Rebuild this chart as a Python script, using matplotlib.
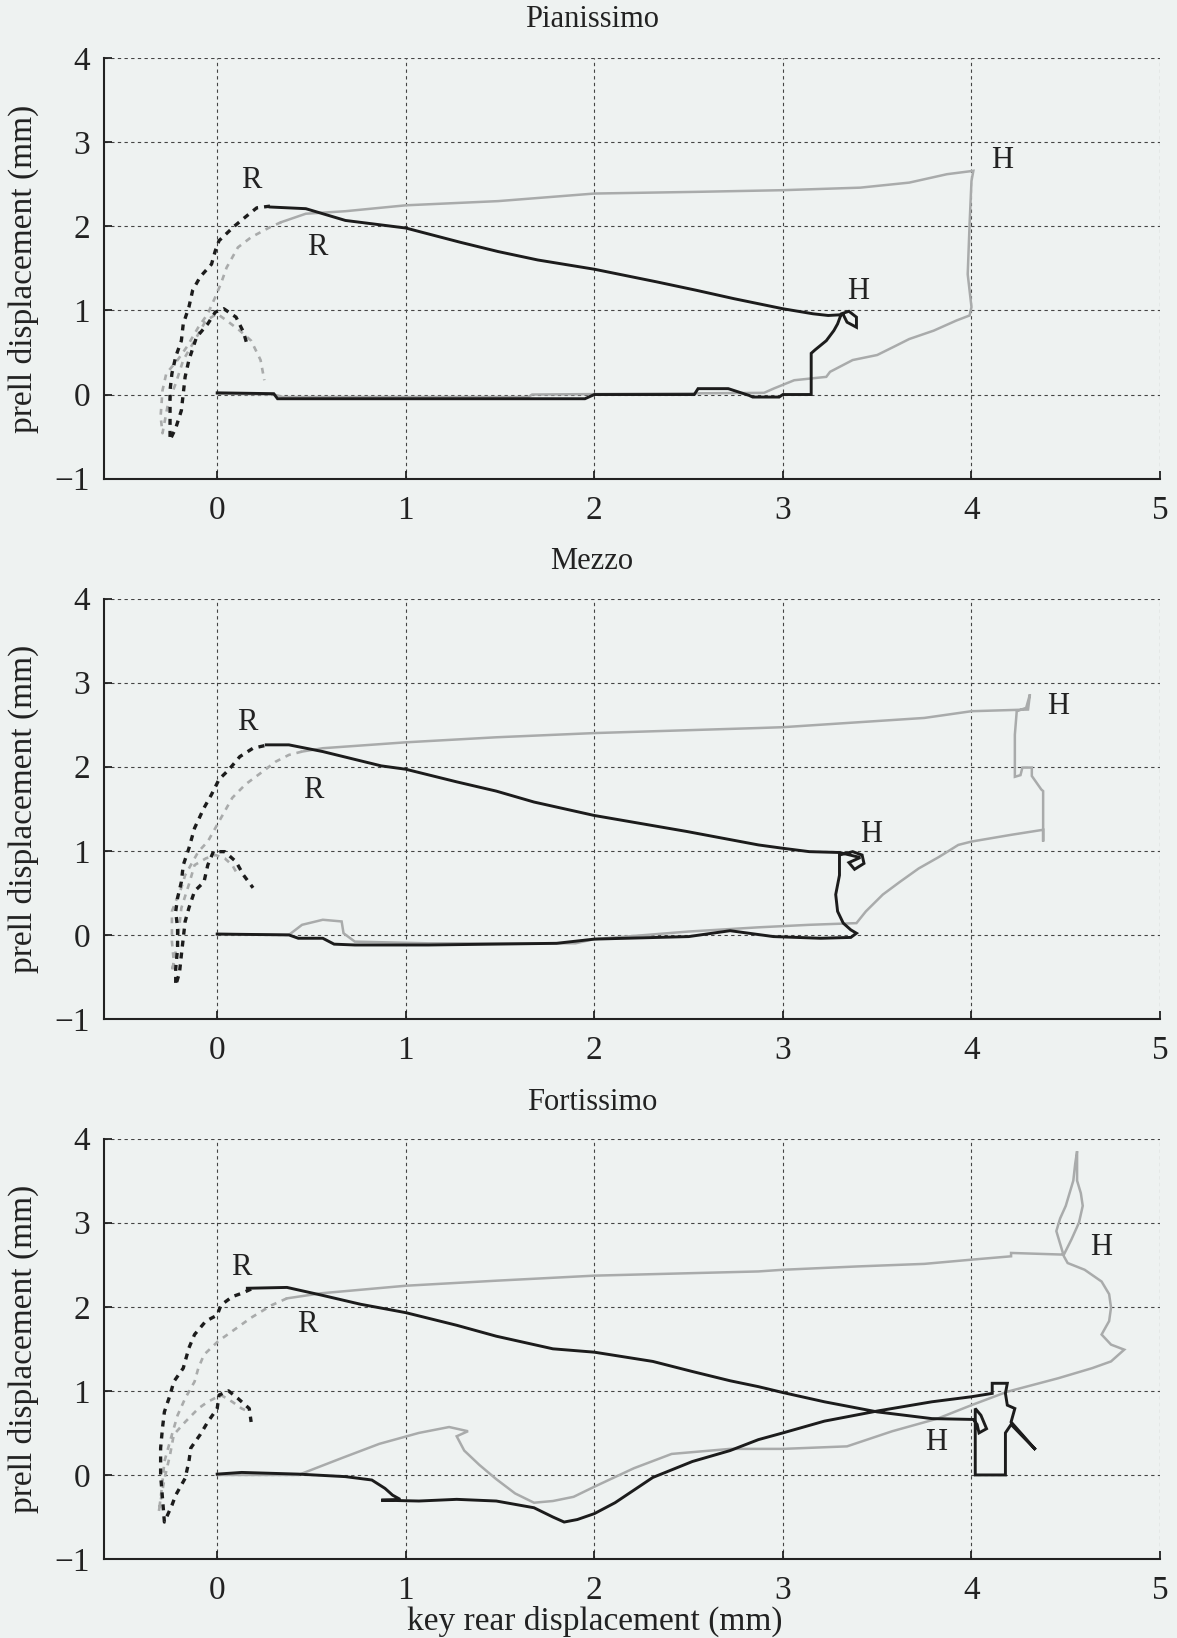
import matplotlib
matplotlib.use("Agg")
import matplotlib.pyplot as plt

# Pianissimo
pp_black_x = [0.0, 0.30, 0.32, 1.0, 1.66, 1.95, 2.0, 2.53, 2.55, 2.71, 2.82, 2.84, 2.98, 3.0, 3.15, 3.15,
              3.17, 3.23, 3.27, 3.29, 3.31, 3.35, 3.39, 3.39, 3.34, 3.32, 3.24, 3.16, 3.0, 2.74, 2.54,
              2.33, 2.0, 1.70, 1.49, 1.29, 1.0, 0.68, 0.47, 0.28]
pp_black_y = [0.02, 0.01, -0.05, -0.05, -0.05, -0.05, 0.0, 0.0, 0.07, 0.07, -0.01, -0.03, -0.03, 0.0, 0.0, 0.49,
              0.53, 0.64, 0.76, 0.84, 0.96, 0.99, 0.92, 0.80, 0.86, 0.95, 0.94, 0.96, 1.02, 1.14, 1.24,
              1.34, 1.49, 1.60, 1.70, 1.81, 1.98, 2.07, 2.21, 2.23]
pp_black_dash_x = [0.28, 0.21, 0.16, 0.09, 0.01, -0.01, -0.03, -0.09, -0.13, -0.15, -0.18, -0.19, -0.22, -0.24,
                   -0.25, -0.25, -0.25, -0.25, -0.22, -0.19, -0.18, -0.17, -0.15, -0.11, -0.05, -0.01, 0.035,
                   0.10, 0.14, 0.16]
pp_black_dash_y = [2.24, 2.22, 2.13, 2.0, 1.83, 1.71, 1.55, 1.40, 1.24, 1.04, 0.84, 0.64, 0.45, 0.25,
                   0.05, -0.19, -0.34, -0.54, -0.40, -0.19, 0.01, 0.21, 0.41, 0.68, 0.84, 0.98, 1.02,
                   0.92, 0.74, 0.58]
pp_gray_x = [0.0, 0.30, 0.35, 1.65, 1.67, 2.9, 2.95, 3.06, 3.23, 3.25, 3.37, 3.5, 3.59, 3.67, 3.8, 3.92, 3.99,
             4.0, 3.98, 3.99, 4.0, 4.01, 3.87, 3.67, 3.41, 3.0, 2.54, 2.0, 1.49, 1.0, 0.68, 0.47, 0.34]
pp_gray_y = [0.01, 0.0, -0.03, -0.03, 0.0, 0.02, 0.07, 0.17, 0.21, 0.27, 0.41, 0.47, 0.57, 0.66, 0.76, 0.88, 0.94,
             1.04, 1.43, 2.03, 2.54, 2.66, 2.62, 2.52, 2.46, 2.43, 2.41, 2.39, 2.30, 2.25, 2.18, 2.15, 2.05]
pp_gray_dash_x = [0.34, 0.28, 0.18, 0.11, 0.05, 0.02, -0.01, -0.05, -0.10, -0.16, -0.21, -0.27, -0.29, -0.30,
                  -0.29, -0.28, -0.26, -0.22, -0.18, -0.12, -0.06, 0.0, 0.05, 0.12, 0.18, 0.23, 0.25]
pp_gray_dash_y = [2.05, 1.99, 1.87, 1.75, 1.51, 1.32, 1.16, 0.96, 0.80, 0.57, 0.41, 0.25, 0.05, -0.26,
                  -0.46, -0.34, -0.10, 0.13, 0.41, 0.64, 0.88, 0.96, 0.88, 0.76, 0.64, 0.41, 0.17]

# Mezzo
mz_black_x = [0.0, 0.38, 0.43, 0.56, 0.62, 0.73, 1.12, 1.8, 2.0, 2.5, 2.72, 2.95, 3.2, 3.36, 3.39, 3.36, 3.32,
              3.29, 3.28, 3.30, 3.30, 3.37, 3.42, 3.43, 3.38, 3.35, 3.41, 3.30, 3.14, 3.0, 2.87, 2.49, 2.0,
              1.68, 1.48, 1.27, 1.0, 0.87, 0.56, 0.38, 0.26]
mz_black_y = [0.01, 0.0, -0.04, -0.04, -0.11, -0.12, -0.12, -0.10, -0.05, -0.02, 0.05, -0.02, -0.04, -0.03, 0.02,
              0.06, 0.14, 0.28, 0.48, 0.71, 0.95, 0.99, 0.95, 0.85, 0.78, 0.86, 0.92, 0.98, 0.99, 1.03, 1.07,
              1.23, 1.42, 1.58, 1.71, 1.82, 1.97, 2.01, 2.18, 2.26, 2.26]
mz_black_dash_x = [0.25, 0.19, 0.12, 0.06, 0.01, -0.03, -0.07, -0.12, -0.15, -0.18, -0.19, -0.21, -0.22, -0.21,
                   -0.21, -0.22, -0.22, -0.20, -0.19, -0.17, -0.15, -0.12, -0.07, -0.05, -0.02, 0.04, 0.10,
                   0.14, 0.19]
mz_black_dash_y = [2.25, 2.22, 2.12, 1.96, 1.85, 1.67, 1.51, 1.27, 1.03, 0.83, 0.63, 0.44, 0.28, 0.08,
                   -0.16, -0.40, -0.60, -0.45, -0.24, 0.16, 0.32, 0.52, 0.63, 0.83, 0.99, 0.99, 0.87,
                   0.71, 0.56]
mz_gray_x = [0.0, 0.38, 0.45, 0.56, 0.66, 0.67, 0.73, 1.12, 1.9, 2.0, 2.5, 2.87, 3.14, 3.39, 3.44, 3.53, 3.62,
             3.72, 3.83, 3.93, 4.0, 4.21, 4.38, 4.38, 4.38, 4.37, 4.32, 4.32, 4.27, 4.26, 4.23, 4.23, 4.24,
             4.29, 4.31, 4.30, 4.0, 3.75, 3.0, 2.87, 2.0, 1.48, 1.0, 0.56, 0.45]
mz_gray_y = [0.01, 0.0, 0.12, 0.18, 0.16, 0.02, -0.08, -0.10, -0.10, -0.05, 0.04, 0.09, 0.12, 0.14, 0.28, 0.48, 0.63,
             0.79, 0.93, 1.07, 1.11, 1.19, 1.25, 1.11, 1.71, 1.73, 1.89, 1.99, 1.99, 1.90, 1.88, 2.38, 2.66,
             2.70, 2.86, 2.68, 2.66, 2.58, 2.47, 2.46, 2.40, 2.35, 2.29, 2.22, 2.18]
mz_gray_dash_x = [0.45, 0.38, 0.31, 0.24, 0.15, 0.08, 0.03, -0.01, -0.05, -0.10, -0.13, -0.17, -0.19, -0.22,
                  -0.24, -0.24, -0.23, -0.24, -0.21, -0.19, -0.15, -0.12, -0.06, -0.01, 0.04, 0.08, 0.10]
mz_gray_dash_y = [2.18, 2.14, 2.06, 1.94, 1.79, 1.63, 1.43, 1.27, 1.11, 0.99, 0.87, 0.71, 0.56, 0.40,
                  0.28, -0.08, -0.32, -0.44, -0.08, 0.32, 0.60, 0.83, 0.91, 0.95, 0.91, 0.83, 0.75]

# Fortissimo
ff_black_x = [0.0, 0.13, 0.43, 0.68, 0.82, 0.89, 0.93, 0.97, 0.87, 1.07, 1.27, 1.48, 1.68, 1.78, 1.84, 1.91, 2.0,
              2.11, 2.31, 2.52, 2.72, 2.87, 3.0, 3.22, 3.5, 3.79, 4.0, 4.11, 4.11, 4.19, 4.18, 4.19, 4.23,
              4.21, 4.34, 4.21, 4.18, 4.18, 4.02, 4.02, 4.05, 4.08, 4.04, 4.03, 4.01, 3.79, 3.5, 3.22, 3.0,
              2.87, 2.72, 2.52, 2.31, 2.0, 1.78, 1.48, 1.27, 1.0, 0.76, 0.55, 0.37, 0.16]
ff_black_y = [0.01, 0.03, 0.01, -0.02, -0.06, -0.16, -0.24, -0.29, -0.30, -0.31, -0.29, -0.31, -0.39, -0.50, -0.56,
              -0.53, -0.46, -0.33, -0.03, 0.16, 0.29, 0.42, 0.50, 0.64, 0.76, 0.87, 0.93, 0.97, 1.09, 1.09, 0.97,
              0.83, 0.79, 0.63, 0.30, 0.60, 0.50, 0.0, 0.0, 0.79, 0.71, 0.55, 0.50, 0.60, 0.66, 0.67, 0.75,
              0.87, 0.98, 1.05, 1.12, 1.23, 1.35, 1.46, 1.50, 1.65, 1.78, 1.93, 2.03, 2.14, 2.23, 2.22]
ff_black_dash_x = [0.18, 0.13, 0.08, 0.02, 0.0, -0.06, -0.12, -0.15, -0.18, -0.23, -0.25, -0.28, -0.29, -0.30,
                   -0.30, -0.29, -0.28, -0.24, -0.22, -0.17, -0.15, -0.14, -0.09, -0.05, 0.0, 0.01, 0.06,
                   0.11, 0.17, 0.18]
ff_black_dash_y = [2.21, 2.16, 2.12, 2.02, 1.90, 1.83, 1.67, 1.51, 1.27, 1.11, 0.95, 0.75, 0.56, 0.32,
                   0.0, -0.28, -0.56, -0.36, -0.24, -0.04, 0.16, 0.32, 0.48, 0.63, 0.79, 0.95, 1.0,
                   0.91, 0.79, 0.63]
ff_gray_x = [0.0, 0.43, 0.66, 0.86, 1.07, 1.23, 1.33, 1.27, 1.31, 1.39, 1.48, 1.58, 1.68, 1.78, 1.89, 2.0, 2.21,
             2.41, 2.72, 3.0, 3.34, 3.58, 3.82, 4.0, 4.19, 4.46, 4.64, 4.74, 4.81, 4.74, 4.69, 4.71, 4.73,
             4.74, 4.73, 4.69, 4.60, 4.51, 4.49, 4.47, 4.45, 4.47, 4.50, 4.52, 4.54, 4.55, 4.56, 4.56, 4.58,
             4.59, 4.57, 4.53, 4.49, 4.21, 4.21, 4.0, 3.75, 3.4, 3.0, 2.87, 2.0, 1.48, 1.0, 0.55, 0.37]
ff_gray_y = [0.0, 0.0, 0.20, 0.37, 0.50, 0.57, 0.52, 0.46, 0.29, 0.12, -0.05, -0.22, -0.33, -0.31, -0.26, -0.14, 0.08,
             0.25, 0.31, 0.31, 0.34, 0.52, 0.67, 0.83, 0.99, 1.15, 1.27, 1.35, 1.49, 1.55, 1.67, 1.75, 1.83,
             1.99, 2.15, 2.30, 2.44, 2.52, 2.60, 2.75, 2.90, 3.05, 3.20, 3.35, 3.50, 3.70, 3.85, 3.50, 3.35,
             3.20, 3.00, 2.80, 2.62, 2.64, 2.60, 2.56, 2.51, 2.48, 2.44, 2.42, 2.37, 2.31, 2.25, 2.16, 2.10]
ff_gray_dash_x = [0.37, 0.29, 0.18, 0.08, 0.005, -0.07, -0.10, -0.12, -0.17, -0.21, -0.24, -0.26, -0.28, -0.29,
                  -0.30, -0.31, -0.28, -0.25, -0.23, -0.17, -0.10, -0.05, 0.02, 0.08, 0.13, 0.17]
ff_gray_dash_y = [2.10, 2.02, 1.87, 1.71, 1.59, 1.43, 1.27, 1.11, 0.91, 0.71, 0.48, 0.32, 0.16, -0.08,
                  -0.28, -0.44, -0.05, 0.24, 0.48, 0.63, 0.79, 0.87, 0.95, 0.87, 0.79, 0.75]

titles = ["Pianissimo", "Mezzo", "Fortissimo"]
title_y = [0.9884, 0.6569, 0.3272]
x_ticks = [0, 1, 2, 3, 4, 5]
y_ticks = [-1, 0, 1, 2, 3, 4]
# R / H markers per panel: (text, x, y)
marks = [
    [("R", 0.18, 2.54), ("R", 0.53, 1.75), ("H", 4.16, 2.78), ("H", 3.40, 1.22)],
    [("R", 0.16, 2.52), ("R", 0.51, 1.72), ("H", 4.46, 2.72), ("H", 3.47, 1.19)],
    [("R", 0.13, 2.47), ("R", 0.48, 1.79), ("H", 4.69, 2.70), ("H", 3.81, 0.38)],
]

panels = [
    (pp_black_x, pp_black_y, pp_black_dash_x, pp_black_dash_y, pp_gray_x, pp_gray_y, pp_gray_dash_x, pp_gray_dash_y),
    (mz_black_x, mz_black_y, mz_black_dash_x, mz_black_dash_y, mz_gray_x, mz_gray_y, mz_gray_dash_x, mz_gray_dash_y),
    (ff_black_x, ff_black_y, ff_black_dash_x, ff_black_dash_y, ff_gray_x, ff_gray_y, ff_gray_dash_x, ff_gray_dash_y),
]

paper = "#eef2f1"
black = "#1c1c1c"
gray = "#a9abab"
plt.rcParams["font.family"] = ["Liberation Serif", "DejaVu Serif"]

fig = plt.figure(figsize=(11.77, 16.38), dpi=100, facecolor=paper)
bottoms = [0.7078, 0.3779, 0.0482]
height = 0.2567

for i, data in enumerate(panels):
    bx, by, bdx, bdy, gx, gy, gdx, gdy = data
    ax = fig.add_axes([0.0884, bottoms[i], 0.8972, height])
    ax.set_facecolor(paper)
    ax.plot(gx, gy, color=gray, lw=1.8, solid_joinstyle="miter", zorder=3)
    ax.plot(gdx, gdy, color=gray, lw=1.9, ls=(0, (2.2, 2.2)), zorder=3)
    ax.plot(bx, by, color=black, lw=2.1, solid_joinstyle="miter", zorder=4)
    ax.plot(bdx, bdy, color=black, lw=2.4, ls=(0, (1.8, 1.8)), zorder=4)
    for t, mx, my in marks[i]:
        ax.text(mx, my, t, fontsize=22, ha="center", va="center", color="#222222")

    ax.set_xlim(-0.6, 5)
    ax.set_ylim(-1, 4)
    ax.set_xticks(x_ticks)
    ax.set_yticks(y_ticks)
    ax.grid(True, color="#444444", lw=0.8, ls=(0, (3, 3)))
    ax.set_axisbelow(True)
    for s in ["top", "right"]:
        ax.spines[s].set_visible(False)
    for s in ["left", "bottom"]:
        ax.spines[s].set_linewidth(1.5)
        ax.spines[s].set_color("#222222")
    ax.tick_params(direction="in", length=6, width=1.3, color="#222222",
                   labelsize=24, labelcolor="#222222", pad=10)
    ax.tick_params(axis="x", pad=12)
    ax.set_ylabel("prell displacement (mm)", fontsize=24, color="#222222")
    ax.yaxis.set_label_coords(-0.062, 0.5)
    fig.text(0.503, title_y[i], titles[i], fontsize=22, ha="center", va="center", color="#222222")

ax.set_xlabel("key rear displacement (mm)", fontsize=24, color="#222222")
ax.xaxis.set_label_coords(0.465, -0.112)

fig.savefig("out.png", dpi=100, facecolor=paper)
